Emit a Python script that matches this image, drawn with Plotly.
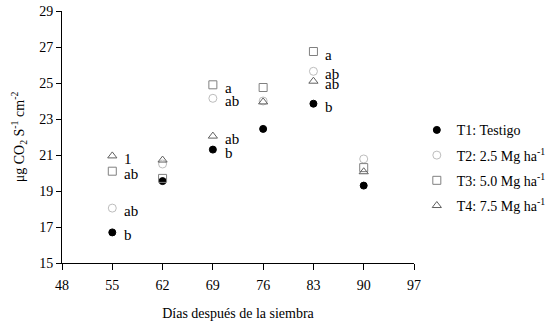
import plotly.graph_objects as go

days = [55, 62, 69, 76, 83, 90]
t1 = [16.7, 19.55, 21.3, 22.45, 23.85, 19.3]
t2 = [18.05, 20.5, 24.15, 24.0, 25.65, 20.78]
t3 = [20.1, 19.7, 24.9, 24.75, 26.75, 20.3]
t4 = [20.95, 20.72, 22.05, 23.95, 25.1, 20.07]

names = ["T1: Testigo", "T2: 2.5 Mg ha<sup>-1</sup>", "T3: 5.0 Mg ha<sup>-1</sup>", "T4: 7.5 Mg ha<sup>-1</sup>"]

# letter labels: (day, series index, text)
label_days = [55, 55, 55, 55, 69, 69, 69, 69, 83, 83, 83, 83]
label_series = [3, 2, 1, 0, 2, 1, 3, 0, 2, 1, 3, 0]
label_texts = ["1", "ab", "ab", "b", "a", "ab", "ab", "b", "a", "ab", "ab", "b"]

x_ticks = [48, 55, 62, 69, 76, 83, 90, 97]
y_ticks = [15, 17, 19, 21, 23, 25, 27, 29]

series = [t1, t2, t3, t4]
styles = [
    dict(symbol="circle", size=7, color="black", line=dict(color="black", width=1)),
    dict(symbol="circle-open", size=8, color="#bdbdbd", line=dict(color="#bdbdbd", width=1)),
    dict(symbol="square-open", size=8, color="#808080", line=dict(color="#808080", width=1)),
    dict(symbol="triangle-up-open", size=8, color="#606060", line=dict(color="#606060", width=1)),
]

fig = go.Figure()
for i, (vals, st) in enumerate(zip(series, styles)):
    fig.add_trace(go.Scatter(x=days, y=vals, mode="markers", name=names[i],
                             marker=st, legendgroup=f"g{i}"))

for d, s, t in zip(label_days, label_series, label_texts):
    idx = days.index(d)
    fig.add_annotation(x=d, y=series[s][idx], text=t, showarrow=False,
                       xanchor="left", yanchor="middle", xshift=10, yshift=-3,
                       font=dict(family="Liberation Serif", size=15, color="black"))

fig.update_layout(
    width=558, height=332,
    margin=dict(l=62, r=144, t=11, b=69, autoexpand=False),
    plot_bgcolor="white", paper_bgcolor="white",
    font=dict(family="Liberation Serif", size=14, color="black"),
    showlegend=True,
    legend=dict(x=1.008, y=0.59, xanchor="left", yanchor="top",
                font=dict(family="Liberation Serif", size=14, color="black"),
                tracegroupgap=4, itemwidth=30, bgcolor="rgba(0,0,0,0)"),
    xaxis=dict(range=[48, 97], tickmode="array", tickvals=x_ticks,
               showline=True, linecolor="black", linewidth=1, mirror=False,
               ticks="outside", ticklen=6, tickcolor="black", showgrid=False, zeroline=False,
               ticklabelstandoff=3,
               tickfont=dict(family="Liberation Serif", size=14),
               title=dict(text="Días después de la siembra", standoff=16,
                          font=dict(family="Liberation Serif", size=14))),
    yaxis=dict(range=[15, 29], tickmode="array", tickvals=y_ticks,
               showline=True, linecolor="black", linewidth=1,
               ticks="outside", ticklen=5, tickcolor="black", showgrid=False, zeroline=False,
               tickfont=dict(family="Liberation Serif", size=14),
               title=dict(text="μg CO<sub>2</sub> S<sup>-1</sup> cm<sup>-2</sup>", standoff=11,
                          font=dict(family="Liberation Serif", size=14))),
)

# remove the browser's default 8px body margin so the figure fills the window exactly
fig.write_html("out.html", config={"displayModeBar": False},
               post_script="document.body.style.margin='0';")
